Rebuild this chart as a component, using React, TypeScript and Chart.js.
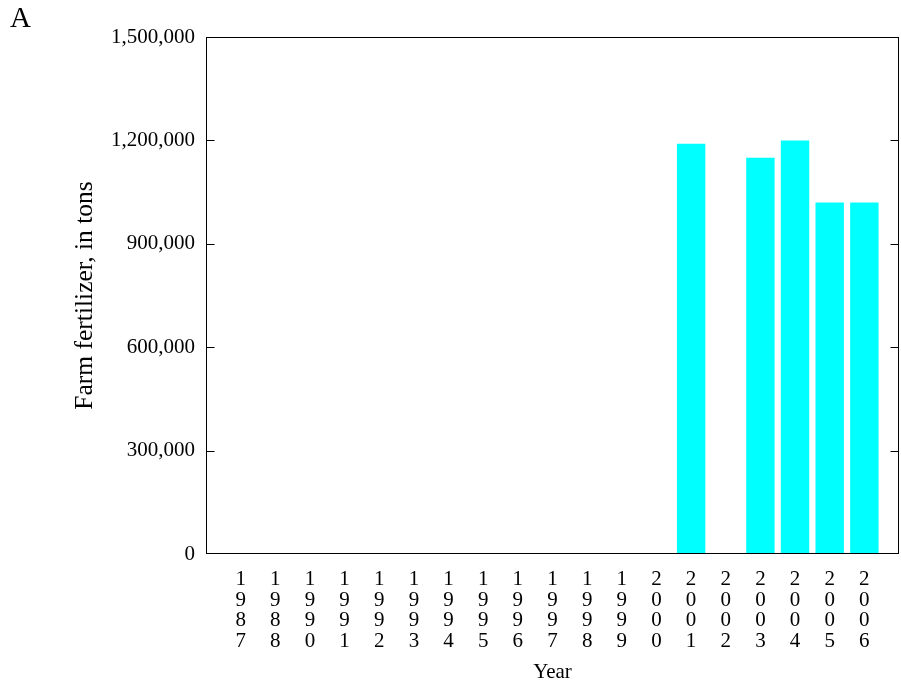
import React, { useEffect, useRef } from "react";
import { Chart, registerables } from "chart.js";

Chart.register(...registerables);

const years: number[] = [
  1987, 1988, 1990, 1991, 1992, 1993, 1994, 1995, 1996, 1997, 1998, 1999,
  2000, 2001, 2002, 2003, 2004, 2005, 2006,
];
const fertilizerTons: (number | null)[] = [
  null, null, null, null, null, null, null, null, null, null, null, null,
  null, 1190000, null, 1150000, 1200000, 1020000, 1020000,
];
const yTickStep = 300000;
const yMax = 1500000;

const FONT = '"Liberation Serif", "Times New Roman", Times, serif';

const framePlugin = {
  id: "frameTicks",
  afterDraw(chart: any) {
    const { ctx, chartArea, scales } = chart;
    const { left, right, top, bottom } = chartArea;
    const y = scales.y;
    ctx.save();
    ctx.strokeStyle = "#000";
    ctx.lineWidth = 1;
    const l = Math.round(left) + 0.5;
    const r = Math.round(right) - 0.5;
    const t = Math.round(top) + 0.5;
    const b = Math.round(bottom) - 0.5;
    ctx.strokeRect(l, t, r - l, b - t);
    ctx.beginPath();
    y.ticks.forEach((tk: any) => {
      if (tk.value <= y.min || tk.value >= y.max) return;
      const py = Math.round(y.getPixelForValue(tk.value)) + 0.5;
      ctx.moveTo(l, py);
      ctx.lineTo(l + 8, py);
      ctx.moveTo(r - 8, py);
      ctx.lineTo(r, py);
    });
    ctx.stroke();
    ctx.restore();
  },
};

export default function App() {
  const ref = useRef<HTMLCanvasElement | null>(null);

  useEffect(() => {
    document.body.style.margin = "0";
    if (!ref.current) return;
    const chart = new Chart(ref.current, {
      type: "bar",
      data: {
        datasets: [
          {
            label: "Farm fertilizer",
            data: years.map((_, i) => ({ x: i, y: fertilizerTons[i] })) as any,
            backgroundColor: "#00FFFF",
            borderWidth: 0,
            barPercentage: 0.82,
            categoryPercentage: 1,
          },
        ],
      },
      options: {
        animation: false,
        responsive: false,
        maintainAspectRatio: false,
        layout: { padding: { left: 10, right: 2, top: 0, bottom: 0 } },
        plugins: {
          legend: { display: false },
          tooltip: { enabled: false },
          title: {
            display: true,
            text: "A",
            align: "start",
            color: "#000",
            font: { family: FONT, size: 29, weight: "normal", lineHeight: 1 },
            padding: { top: 5, bottom: 3 },
          },
        },
        scales: {
          x: {
            type: "linear",
            min: -1,
            max: years.length,
            offset: false,
            afterBuildTicks: (s: any) => {
              s.ticks = years.map((_, i) => ({ value: i }));
            },
            ticks: {
              autoSkip: false,
              maxRotation: 0,
              minRotation: 0,
              color: "#000",
              padding: 15,
              font: { family: FONT, size: 21, lineHeight: 0.985 },
              callback: (v: any) => {
                const yr = years[Number(v)];
                return yr === undefined ? "" : String(yr).split("");
              },
            },
            grid: { display: false, drawTicks: false },
            border: { display: false },
            title: {
              display: true,
              text: "Year",
              color: "#000",
              font: { family: FONT, size: 21 },
              padding: { top: 3, bottom: 0 },
            },
            afterFit: (s: any) => {
              s.height = 131;
            },
          },
          y: {
            min: 0,
            max: yMax,
            ticks: {
              stepSize: yTickStep,
              color: "#000",
              padding: 11,
              font: { family: FONT, size: 21 },
              callback: (v: any) => Number(v).toLocaleString("en-US"),
            },
            grid: { display: false, drawTicks: false },
            border: { display: false },
            title: {
              display: true,
              text: "Farm fertilizer, in tons",
              color: "#000",
              font: { family: FONT, size: 25.5 },
              padding: { top: 60, bottom: 0 },
            },
            afterFit: (s: any) => {
              s.width = 196;
            },
          },
        },
      },
      plugins: [framePlugin],
    });
    return () => chart.destroy();
  }, []);

  return (
    <div style={{ width: 901, height: 685 }}>
      <canvas ref={ref} width={901} height={685} />
    </div>
  );
}
